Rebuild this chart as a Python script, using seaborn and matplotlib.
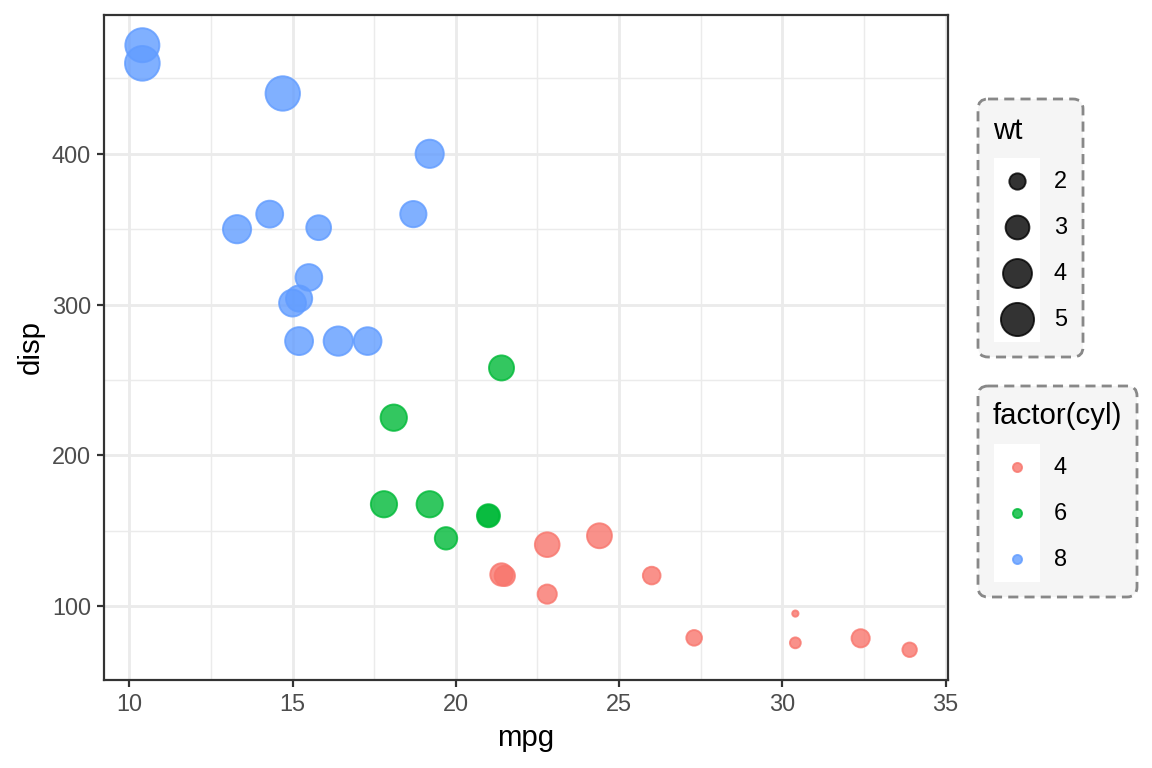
import numpy as np
import pandas as pd
import matplotlib
matplotlib.use("Agg")
import matplotlib.pyplot as plt
import seaborn as sns
from matplotlib.patches import FancyBboxPatch, Rectangle
from matplotlib.lines import Line2D

# mtcars data
mpg = [21.0, 21.0, 22.8, 21.4, 18.7, 18.1, 14.3, 24.4, 22.8, 19.2, 17.8, 16.4, 17.3, 15.2,
       10.4, 10.4, 14.7, 32.4, 30.4, 33.9, 21.5, 15.5, 15.2, 13.3, 19.2, 27.3, 26.0, 30.4,
       15.8, 19.7, 15.0, 21.4]
cyl = [6, 6, 4, 6, 8, 6, 8, 4, 4, 6, 6, 8, 8, 8, 8, 8, 8, 4, 4, 4, 4, 8, 8, 8, 8, 4, 4, 4,
       8, 6, 8, 4]
disp = [160, 160, 108, 258, 360, 225, 360, 146.7, 140.8, 167.6, 167.6, 275.8, 275.8, 275.8,
        472, 460, 440, 78.7, 75.7, 71.1, 120.1, 318, 304, 350, 400, 79, 120.3, 95.1,
        351, 145, 301, 121]
wt = [2.620, 2.875, 2.320, 3.215, 3.440, 3.460, 3.570, 3.190, 3.150, 3.440, 3.440, 4.070,
      3.730, 3.780, 5.250, 5.424, 5.345, 2.200, 1.615, 1.835, 2.465, 3.520, 3.435, 3.840,
      3.845, 1.935, 2.140, 1.513, 3.170, 2.770, 3.570, 2.780]

cyl_levels = ["4", "6", "8"]
cyl_colors = ["#F8766D", "#00BA38", "#619CFF"]
wt_breaks = [2, 3, 4, 5]
x_ticks = [10, 15, 20, 25, 30, 35]
y_ticks = [100, 200, 300, 400]

sns.set_style("white")
plt.rcParams["font.family"] = ["Liberation Sans", "DejaVu Sans"]

K = 4 / 3  # scale from 192 dpi original to 144 dpi
PT = 72.27 / 25.4
ALPHA = 0.8
STROKE_LW = 0.5 * 3.78 / 2
FS_SMALL = 8.8 * K
FS_BIG = 11 * K

wt_min, wt_max = min(wt), max(wt)


def gg_size(w):
    r = (np.asarray(w, dtype=float) - wt_min) / (wt_max - wt_min)
    return 1 + 5 * np.sqrt(r)


def marker_area(size):
    return (np.asarray(size) * PT + 0.3) ** 2


df = pd.DataFrame({"mpg": mpg, "disp": disp, "cyl": [str(c) for c in cyl], "wt": wt})
df["s"] = marker_area(gg_size(df["wt"]))

W, H, DPI = 1152, 768, 144
fig = plt.figure(figsize=(W / DPI, H / DPI), dpi=DPI)
fig.patch.set_facecolor("white")

L, R, T, B = 104, 948, 15, 680
ax = fig.add_axes([L / W, 1 - B / H, (R - L) / W, (B - T) / H])

smin, smax = df["s"].min(), df["s"].max()
sns.scatterplot(data=df, x="mpg", y="disp", hue="cyl", hue_order=cyl_levels,
                palette=dict(zip(cyl_levels, cyl_colors)), size="s",
                sizes=(smin, smax), size_norm=(smin, smax), alpha=ALPHA,
                edgecolor="face", linewidth=STROKE_LW, legend=False, ax=ax, zorder=3)

xr = max(mpg) - min(mpg)
yr = max(disp) - min(disp)
ax.set_xlim(min(mpg) - 0.05 * xr, max(mpg) + 0.05 * xr)
ax.set_ylim(min(disp) - 0.05 * yr, max(disp) + 0.05 * yr)
ax.set_xticks(x_ticks)
ax.set_yticks(y_ticks)
ax.set_xticks([12.5, 17.5, 22.5, 27.5, 32.5], minor=True)
ax.set_yticks([150, 250, 350, 450], minor=True)
ax.set_facecolor("white")
ax.grid(which="major", color="#EBEBEB", linewidth=1.42, zorder=0)
ax.grid(which="minor", color="#EBEBEB", linewidth=0.71, zorder=0)
ax.set_axisbelow(True)
for sp in ax.spines.values():
    sp.set_visible(True)
    sp.set_color("#333333")
    sp.set_linewidth(1.1)
ax.tick_params(which="major", length=2.75 * K, width=1.1, color="#333333",
               labelsize=FS_SMALL, labelcolor="#4D4D4D", pad=2.2 * K,
               bottom=True, left=True)
ax.tick_params(which="minor", length=0)
ax.set_xlabel("mpg", fontsize=FS_BIG, color="black", labelpad=2.75 * K)
ax.set_ylabel("disp", fontsize=FS_BIG, color="black", labelpad=2.75 * K)

# overlay for legends in pixel coordinates
ov = fig.add_axes([0, 0, 1, 1], zorder=5)
ov.set_xlim(0, W)
ov.set_ylim(H, 0)
ov.axis("off")


def legend_box(x0, y0, x1, y1):
    p = FancyBboxPatch((x0 + 10, y0 + 10), (x1 - x0) - 20, (y1 - y0) - 20,
                       boxstyle="round,pad=10", facecolor="#F5F5F5", edgecolor="#888888",
                       linewidth=1.4, linestyle=(0, (3.6, 2.2)))
    ov.add_patch(p)


# wt legend
legend_box(978, 99, 1083, 357)
ov.text(993, 131, "wt", fontsize=FS_BIG, va="center", ha="left", color="black")
ov.add_patch(Rectangle((994, 158), 46, 46 * len(wt_breaks), facecolor="white", edgecolor="none"))
for i, b in enumerate(wt_breaks):
    cy = 158 + 23 + 46 * i
    d = float(gg_size(b)) * PT + 0.3
    ov.add_line(Line2D([1017], [cy], marker="o", markersize=d, color="black",
                       markerfacecolor="black", markeredgecolor="black",
                       markeredgewidth=STROKE_LW, alpha=ALPHA, linestyle="none"))
    ov.text(1054, cy, str(b), fontsize=FS_SMALL, va="center", ha="left", color="black")

# cyl legend
legend_box(978, 386, 1137, 597)
ov.text(993, 416, "factor(cyl)", fontsize=FS_BIG, va="center", ha="left", color="black")
ov.add_patch(Rectangle((994, 444), 46, 46 * len(cyl_levels), facecolor="white", edgecolor="none"))
for i, (lv, c) in enumerate(zip(cyl_levels, cyl_colors)):
    cy = 444 + 23 + 46 * i
    ov.add_line(Line2D([1017], [cy], marker="o", markersize=1.5 * PT + 0.3, color=c,
                       markerfacecolor=c, markeredgecolor=c,
                       markeredgewidth=STROKE_LW, alpha=ALPHA, linestyle="none"))
    ov.text(1054, cy, lv, fontsize=FS_SMALL, va="center", ha="left", color="black")

fig.savefig("out.png", dpi=DPI)
